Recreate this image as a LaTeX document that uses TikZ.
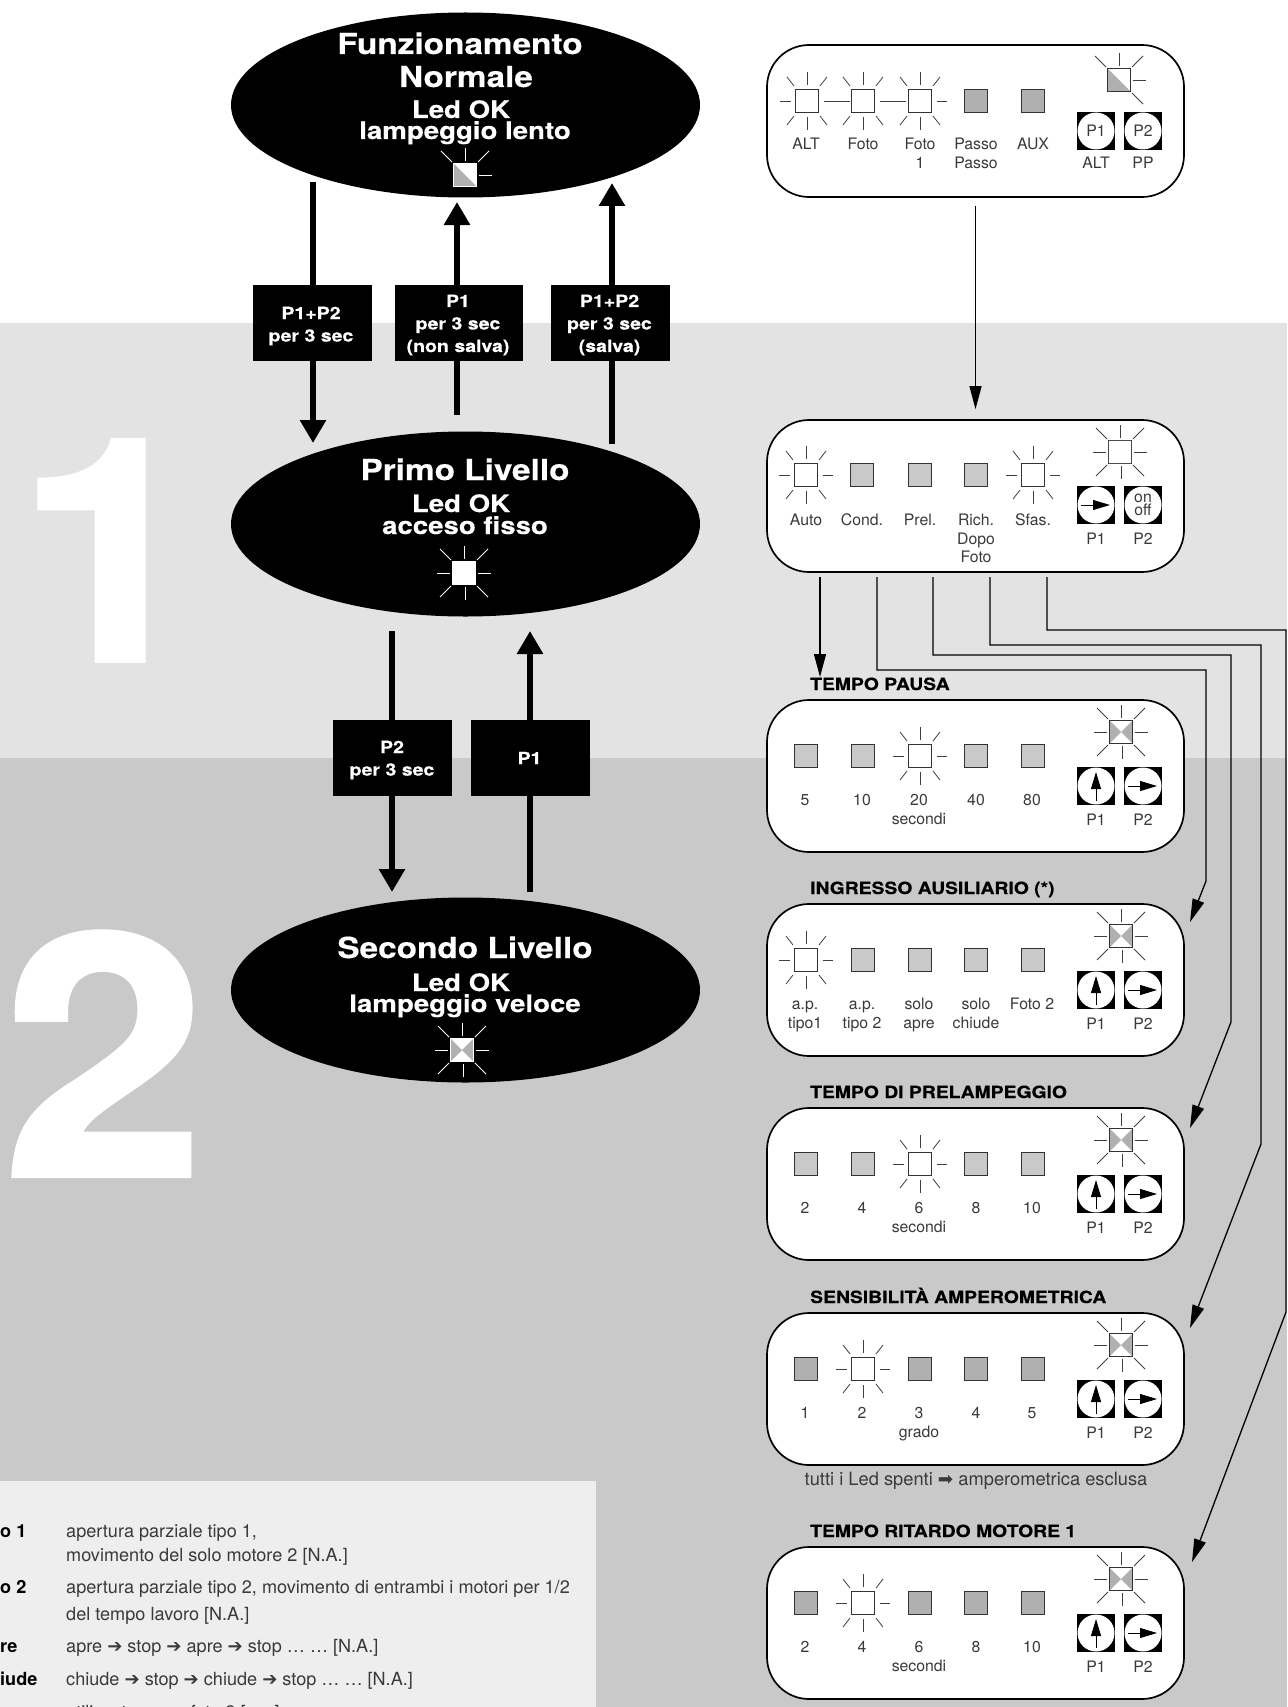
\documentclass[tikz,border=0pt]{standalone}
\usepackage{fontspec}
\setmainfont{TeX Gyre Heros}
\newfontfamily\heavyfont{TeX Gyre Heros}[BoldFeatures={FakeStretch=1.15,FakeBold=0.35}]
\newfontfamily\numfont{TeX Gyre Heros}[BoldFeatures={FakeStretch=1.08,FakeBold=1.2}]
\newfontfamily\symfont{DejaVu Sans}
\usetikzlibrary{arrows.meta,positioning,calc,shapes.geometric}
\definecolor{bandlight}{HTML}{E3E3E3}
\definecolor{bandmid}{HTML}{C9C9C9}
\definecolor{legendbg}{HTML}{EEEEEE}
\definecolor{ledgrey}{HTML}{B0B0B0}
\definecolor{ledpale}{HTML}{C9C9C9}
\definecolor{labgrey}{HTML}{3A3A3A}
\newcommand{\heavysize}[2]{\fontsize{#1}{#2}\selectfont\heavyfont\bfseries}
\tikzset{
  oval/.style={ellipse,fill=black,minimum width=469pt,minimum height=185pt,inner sep=0pt},
  ovaltitle/.style={anchor=base,inner sep=0pt,text=white,font=\heavysize{29}{34}},
  ovalsub/.style={anchor=base,inner sep=0pt,text=white,font=\heavysize{24}{28}},
  bignum/.style={anchor=base,inner sep=0pt,text=white},
  keybox/.style={fill=black,inner sep=0pt,minimum width=119pt,minimum height=76pt},
  keytext/.style={text=white,align=center,inner sep=0pt,font=\heavysize{17}{22.5}},
  bigarr/.style={-{Triangle[length=23pt,width=25pt]},line width=6.5pt,draw=black},
  thinarr/.style={-{Triangle[length=23pt,width=12pt]},line width=1.3pt,draw=black},
  panel/.style={draw=black,fill=white,line width=1.7pt,rounded corners=42pt,minimum width=417pt,minimum height=152pt,inner sep=0pt},
  paneltitle/.style={anchor=base west,inner sep=0pt,text=black,font=\heavysize{16.8}{20}},
  lab/.style={anchor=base,inner sep=0pt,text=labgrey,font=\fontsize{15.8}{18}\selectfont},
  led/.style={rectangle,minimum size=23pt,inner sep=0pt,line width=1pt,draw=black!80},
  ledon/.style={led,fill=white},
  ledoff/.style={led,fill=#1},
  ledpaleoff/.style={ledoff=ledpale},
  ledhalf/.style={led,draw=#1,fill=white,line width=1.4pt,path picture={\fill[ledgrey] (path picture bounding box.north west) -- (path picture bounding box.south east) -- (path picture bounding box.south west) -- cycle;}},
  ledcross/.style={led,draw=#1,fill=white,line width=1.4pt,path picture={\fill[ledgrey] (path picture bounding box.north west) -- (path picture bounding box.center) -- (path picture bounding box.south west) -- cycle;
    \fill[ledgrey] (path picture bounding box.north east) -- (path picture bounding box.center) -- (path picture bounding box.south east) -- cycle;}},
  ray/.style={line width=0.8pt,draw=black!75},
  whiteray/.style={line width=0.9pt,draw=white},
  btnsq/.style={rectangle,fill=black,minimum size=38.5pt,inner sep=0pt},
  btnface/.style={circle,fill=white,minimum size=37pt,inner sep=0pt,align=center,text=labgrey,font=\fontsize{15.8}{13}\selectfont},
  btnarr/.style={-{Triangle[length=17pt,width=10pt]},line width=1pt,draw=black},
  legtext/.style={anchor=base west,inner sep=0pt,text=labgrey,font=\fontsize{18.1}{21}\selectfont},
  legkey/.style={anchor=base west,inner sep=0pt,text=black,font=\fontsize{18.1}{21}\selectfont\bfseries},
}
\newcommand{\litlist}{0/-29/0/-16,0/16/0/29,-27/0/-16.5/0,16.5/0/27/0,-20/-24/-13/-15,20/-24/13/-15,-20/24/-13/15,20/24/13/15}
\newcommand{\oklist}{0/-27/0/-14,1/14/1/27,-27/0/-14/0,14/0/27/0,-24/-24/-13/-13,24/-24/13/-13,-24/24/-13/13,24/24/13/13}
\newcommand{\rays}[4]{\begin{scope}[shift={(#2,#3)}]
  \foreach \ax/\ay/\bx/\by in #4 {\draw[#1] (\ax,\ay) -- (\bx,\by);}
\end{scope}}
\newcommand{\btn}[4]{\node[btnsq] (#1) at (#2,#3) {};
  \node[btnface] (#1-face) at (#1) {#4};}
\newcommand{\btnright}[1]{\draw[btnarr] ($(#1)+(-15,0)$) -- ($(#1)+(14,0)$);}
\newcommand{\btnup}[1]{\draw[btnarr] ($(#1)+(0,15)$) -- ($(#1)+(0,-14)$);}
\newcommand{\labrow}[3]{\foreach \n/\x/\t in {#3} {\node[lab] (#1-\n) at (\x,#2) {\t};}}
% panel with title, five leds, ok led and the two arrow keys
\newcommand{\ctrlpanel}[5]{
  \node[panel] (#1) at (975.5,#2+76) {};
  \node[paneltitle] (#1-title) at (810,#2-10) {#3};
  \foreach \n/\x in {1/806,2/863,3/920,4/976,5/1033} {
    \ifnum\n=#5
      \rays{ray}{\x}{#2+56}{\litlist}
      \node[ledon] (#1-led\n) at (\x,#2+56) {};
    \else
      \node[ledoff=#4] (#1-led\n) at (\x,#2+56) {};
    \fi}
  \rays{ray}{1121}{#2+32}{\oklist}
  \node[ledcross=black!80] (#1-ok) at (1121,#2+32) {};
  \btn{#1-p1}{1096}{#2+86}{}
  \btn{#1-p2}{1143}{#2+86}{}
  \btnup{#1-p1}
  \btnright{#1-p2}
  \node[lab] (#1-p1lab) at (1096,#2+125) {P1};
  \node[lab] (#1-p2lab) at (1143,#2+125) {P2};
}
\begin{document}
\begin{tikzpicture}[x=1pt,y=-1pt]
\useasboundingbox (0,0) rectangle (1287,1707);
\clip (0,0) rectangle (1287,1707);
% bands
\fill[bandlight] (0,323) rectangle (1287,758);
\fill[bandmid] (0,758) rectangle (1287,1707);
\fill[legendbg] (0,1481) rectangle (596,1707);
\node[bignum,font=\fontsize{312}{312}\selectfont\numfont\bfseries] (num1) at (110,661) {1};
\node[bignum,font=\fontsize{338}{338}\selectfont\numfont\bfseries] (num2) at (104,1176) {2};

% levels
\node[oval] (normale) at (465.5,105) {};
\node[oval] (primo) at (465.5,524) {};
\node[oval] (secondo) at (465.5,990) {};
\node[ovaltitle] (normale-a) at (460,54) {Funzionamento};
\node[ovaltitle] (normale-b) at (466,87) {Normale};
\node[ovalsub] (normale-c) at (461,118) {Led OK};
\node[ovalsub] (normale-d) at (465,139) {lampeggio lento};
\rays{whiteray}{465}{175}{{0/-27/0/-14,14/0/27/0,-24/-24/-13/-13,24/-24/13/-13}}
\node[ledhalf=white] (normale-led) at (465,175) {};
\node[ovaltitle] (primo-a) at (465,480) {Primo Livello};
\node[ovalsub] (primo-b) at (461,512) {Led OK};
\node[ovalsub] (primo-c) at (465,534) {acceso fisso};
\rays{whiteray}{464}{573}{\oklist}
\node[led,draw=white,fill=white] (primo-led) at (464,573) {};
\node[ovaltitle] (secondo-a) at (465,958) {Secondo Livello};
\node[ovalsub] (secondo-b) at (461,991) {Led OK};
\node[ovalsub] (secondo-c) at (465,1012) {lampeggio veloce};
\rays{whiteray}{462}{1050}{\oklist}
\node[ledcross=white] (secondo-led) at (462,1050) {};

% thick arrows, the boxes sit on them
\coordinate (a1s) at (313,182);
\coordinate (a1e) at (313,443);
\coordinate (a2s) at (457,415);
\coordinate (a2e) at (457,202);
\coordinate (a3s) at (612,444);
\coordinate (a3e) at (612,183);
\coordinate (a4s) at (392,631);
\coordinate (a4e) at (392,892);
\coordinate (a5s) at (530,892);
\coordinate (a5e) at (530,631);
\foreach \s/\e in {a1s/a1e,a2s/a2e,a3s/a3e,a4s/a4e,a5s/a5e} {\draw[bigarr] (\s) -- (\e);}
\node[keybox] (key1) at (312.5,323) {};
\node[keytext] (key1-text) at (311,326) {P1+P2\\per 3 sec};
\node[keybox,minimum width=128pt] (key2) at (459,323) {};
\node[keytext] (key2-text) at (458,325) {P1\\per 3 sec\\(non salva)};
\node[keybox] (key3) at (610.5,323) {};
\node[keytext] (key3-text) at (609.5,325) {P1+P2\\per 3 sec\\(salva)};
\node[keybox] (key4) at (392.5,758) {};
\node[keytext] (key4-text) at (392,760) {P2\\per 3 sec};
\node[keybox] (key5) at (530.5,758) {};
\node[keytext] (key5-text) at (529.5,758) {P1};

% first panel
\node[panel] (pnormale) at (975.5,121) {};
\foreach \n/\x in {1/807,2/863,3/920} {
  \rays{ray}{\x}{101}{\litlist}
  \node[ledon] (pnormale-led\n) at (\x,101) {};}
\draw[ray] (826,101) -- (850,101) (882,101) -- (906,101);
\node[ledoff=ledgrey] (pnormale-led4) at (976,101) {};
\node[ledoff=ledgrey] (pnormale-led5) at (1033,101) {};
\rays{ray}{1119}{80}{{0/-27/0/-14,14/0/27/0,-24/-24/-13/-13,24/-24/13/-13,24/24/13/13}}
\node[ledhalf=black!80] (pnormale-ok) at (1119,80) {};
\btn{pnormale-p1}{1096}{131}{P1}
\btn{pnormale-p2}{1143}{131}{P2}
\labrow{pnormale-top}{150}{1/806/ALT,2/863/Foto,3/920/Foto,4/976/Passo,5/1033/AUX}
\labrow{pnormale-bot}{169}{3/920/1,4/976/Passo,6/1096/ALT,7/1143/PP}

% second panel
\node[panel] (pprimo) at (975.5,496) {};
\foreach \n/\x/\k in {1/806/ledon,2/862/ledpaleoff,3/920/ledpaleoff,4/976/ledpaleoff,5/1033/ledon} {
  \ifnum\n=1 \rays{ray}{\x}{475}{\litlist}\fi
  \ifnum\n=5 \rays{ray}{\x}{475}{\litlist}\fi
  \node[\k] (pprimo-led\n) at (\x,475) {};}
\rays{ray}{1120}{452}{\oklist}
\node[ledon,draw=black!70] (pprimo-ok) at (1120,452) {};
\btn{pprimo-p1}{1096}{505}{}
\btnright{pprimo-p1}
\btn{pprimo-p2}{1143}{505}{on\\off}
\labrow{pprimo-top}{525}{1/806/Auto,2/862/Cond.,3/920/Prel.,4/976/Rich.,5/1033/Sfas.}
\labrow{pprimo-mid}{544}{4/976/Dopo,6/1096/P1,7/1143/P2}
\node[lab] (pprimo-low) at (976,562) {Foto};

% settings panels
\ctrlpanel{ppausa}{700}{TEMPO PAUSA}{ledpale}{3}
\labrow{ppausa-top}{805}{1/805/5,2/862/10,3/919/20,4/976/40,5/1032/80}
\node[lab] (ppausa-unit) at (919,824) {secondi};
\ctrlpanel{paux}{904}{INGRESSO AUSILIARIO (*)}{ledpale}{1}
\labrow{paux-top}{1009}{1/805/a.p.,2/862/a.p.,3/919/solo,4/976/solo,5/1032/Foto 2}
\labrow{paux-bot}{1028}{1/805/tipo1,2/862/tipo 2,3/919/apre,4/976/chiude}
\ctrlpanel{pprel}{1108}{TEMPO DI PRELAMPEGGIO}{ledpale}{3}
\labrow{pprel-top}{1213}{1/805/2,2/862/4,3/919/6,4/976/8,5/1032/10}
\node[lab] (pprel-unit) at (919,1232) {secondi};
\ctrlpanel{psens}{1313}{SENSIBILITÀ AMPEROMETRICA}{ledgrey}{2}
\labrow{psens-top}{1418}{1/805/1,2/862/2,3/919/3,4/976/4,5/1032/5}
\node[lab] (psens-unit) at (919,1437) {grado};
\node[lab,font=\fontsize{18.3}{20}\selectfont] (psens-note) at (976,1485) {tutti i Led spenti {\symfont ➡} amperometrica esclusa};
\ctrlpanel{pritardo}{1547}{TEMPO RITARDO MOTORE 1}{ledgrey}{2}
\labrow{pritardo-top}{1652}{1/805/2,2/862/4,3/919/6,4/976/8,5/1032/10}
\node[lab] (pritardo-unit) at (919,1671) {secondi};

% thin connectors
\draw[thinarr,shorten <=8pt,shorten >=10pt] (pnormale.south) -- (pprimo.north);
\coordinate (c1) at (820,577);
\coordinate (c1t) at (820,677);
\coordinate (c2) at (877,577);
\coordinate (c2b) at (1206,670);
\coordinate (c2d) at (1206,881);
\coordinate (c2t) at (1190,922);
\coordinate (c3) at (933,577);
\coordinate (c3b) at (1231,655);
\coordinate (c3d) at (1231,1022);
\coordinate (c3t) at (1190,1128);
\coordinate (c4) at (990,577);
\coordinate (c4b) at (1261,645);
\coordinate (c4d) at (1261,1144);
\coordinate (c4t) at (1190,1328);
\coordinate (c5) at (1047,577);
\coordinate (c5b) at (1286,630);
\coordinate (c5d) at (1286,1312);
\coordinate (c5t) at (1192,1562);
\draw[thinarr] (c1) -- (c1t);
\draw[thinarr] (c2) |- (c2b) -- (c2d) -- (c2t);
\draw[thinarr] (c3) |- (c3b) -- (c3d) -- (c3t);
\draw[thinarr] (c4) |- (c4b) -- (c4d) -- (c4t);
\draw[thinarr] (c5) |- (c5b) -- (c5d) -- (c5t);

% legend, runs off the page at left and bottom
\node[legkey] (leg1) at (0,1537) {o 1};
\node[legtext] (leg1a) at (66,1537) {apertura parziale tipo 1,};
\node[legtext] (leg1b) at (66,1561) {movimento del solo motore 2 [N.A.]};
\node[legkey] (leg2) at (0,1593) {o 2};
\node[legtext] (leg2a) at (66,1593) {apertura parziale tipo 2, movimento di entrambi i motori per 1/2};
\node[legtext] (leg2b) at (66,1620) {del tempo lavoro [N.A.]};
\node[legkey] (leg3) at (0,1652) {re};
\node[legtext] (leg3a) at (66,1652) {apre {\symfont ➔} stop {\symfont ➔} apre {\symfont ➔} stop … … [N.A.]};
\node[legkey] (leg4) at (0,1685) {iude};
\node[legtext] (leg4a) at (66,1685) {chiude {\symfont ➔} stop {\symfont ➔} chiude {\symfont ➔} stop … … [N.A.]};
\node[legtext] (leg5a) at (66,1718) {utilizzato come foto 2 [n.c.]};
\end{tikzpicture}
\end{document}
